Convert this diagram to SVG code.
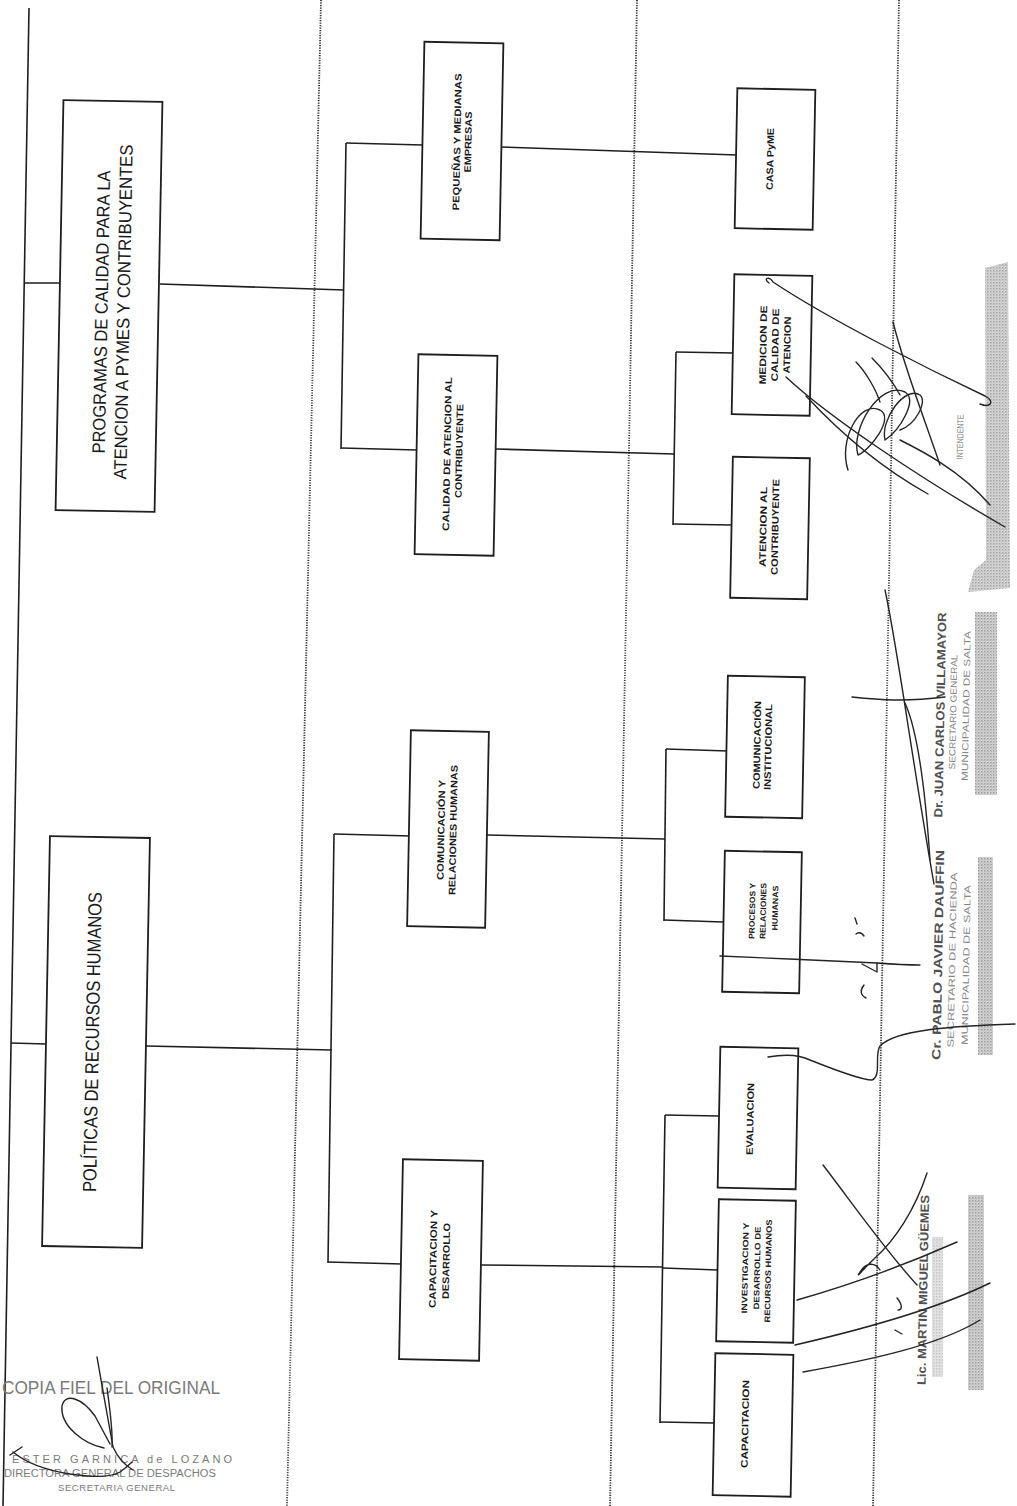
<svg xmlns="http://www.w3.org/2000/svg" width="1017" height="1506" viewBox="0 0 1017 1506">
  <style>
    .box { fill: #ffffff; stroke: #1e1e1e; stroke-width: 1.8; }
    .ln { stroke: #1e1e1e; stroke-width: 1.6; fill: none; }
    .dot { stroke: #333333; stroke-width: 1.8; stroke-dasharray: 1.2 1.3; fill: none; }
    .big { font-family: "Liberation Sans", Arial, sans-serif; font-size: 18px; fill: #1a1a1a; text-anchor: middle; }
    .lbl { font-family: "Liberation Sans", Arial, sans-serif; font-weight: bold; font-size: 9.5px; fill: #1a1a1a; text-anchor: middle; }
    .lbs { font-family: "Liberation Sans", Arial, sans-serif; font-weight: bold; font-size: 8px; fill: #1a1a1a; text-anchor: middle; }
    .sig { stroke: #242424; fill: none; stroke-width: 1.4; stroke-linecap: round; stroke-linejoin: round; }
    .stn { font-family: "Liberation Sans", Arial, sans-serif; font-weight: bold; font-size: 12px; fill: #505050; text-anchor: middle; }
    .stl { font-family: "Liberation Sans", Arial, sans-serif; font-size: 9px; fill: #858585; text-anchor: middle; }
    .cp { font-family: "Liberation Sans", Arial, sans-serif; fill: #7a7a7a; }
  </style>
  <defs>
    <pattern id="grain" width="3" height="3" patternUnits="userSpaceOnUse">
      <rect width="3" height="3" fill="#c4c4c4"/>
      <rect width="1.5" height="1.5" fill="#7d7d7d"/>
      <rect x="1.5" y="1.5" width="1" height="1" fill="#9a9a9a"/>
    </pattern>
  </defs>
  <rect width="1017" height="1506" fill="#ffffff"/>

  <!-- column separators -->
  <g id="separators">
    <line class="dot" x1="321" y1="0" x2="287" y2="1506"/>
    <line class="dot" x1="637" y1="0" x2="610" y2="1506"/>
    <line class="dot" x1="899" y1="0" x2="873" y2="1506"/>
  </g>

  <!-- connectors -->
  <g id="connectors">
    <line class="ln" x1="29" y1="8" x2="3" y2="1506"/>
    <line class="ln" x1="24" y1="283" x2="60" y2="283"/>
    <line class="ln" x1="160" y1="284" x2="344" y2="290"/>
    <line class="ln" x1="11" y1="1043" x2="46" y2="1044"/>
    <line class="ln" x1="146" y1="1046" x2="332" y2="1050"/>

    <line class="ln" x1="346" y1="143" x2="341" y2="449"/>
    <line class="ln" x1="346" y1="143" x2="423" y2="145"/>
    <line class="ln" x1="341" y1="448" x2="417" y2="450"/>

    <line class="ln" x1="334" y1="834" x2="328" y2="1263"/>
    <line class="ln" x1="334" y1="834" x2="411" y2="836"/>
    <line class="ln" x1="328" y1="1262" x2="402" y2="1264"/>

    <line class="ln" x1="501" y1="147" x2="737" y2="155"/>

    <line class="ln" x1="496" y1="449" x2="674" y2="454"/>
    <line class="ln" x1="676" y1="352" x2="673" y2="525"/>
    <line class="ln" x1="676" y1="352" x2="734" y2="353"/>
    <line class="ln" x1="673" y1="524" x2="731" y2="525"/>

    <line class="ln" x1="487" y1="835" x2="665" y2="839"/>
    <line class="ln" x1="666" y1="749" x2="664" y2="921"/>
    <line class="ln" x1="666" y1="749" x2="728" y2="751"/>
    <line class="ln" x1="664" y1="920" x2="723" y2="922"/>

    <line class="ln" x1="481" y1="1265" x2="663" y2="1267"/>
    <line class="ln" x1="665" y1="1115" x2="660" y2="1423"/>
    <line class="ln" x1="665" y1="1115" x2="719" y2="1116"/>
    <line class="ln" x1="663" y1="1268" x2="718" y2="1270"/>
    <line class="ln" x1="660" y1="1422" x2="714" y2="1423"/>
  </g>

  <!-- level 1 -->
  <g id="programas">
    <rect class="box" x="-49.5" y="-205" width="99" height="410" transform="translate(109,306) rotate(1.1)"/>
    <text class="big" transform="translate(101,312) rotate(-88.9)" y="6.5" textLength="283" lengthAdjust="spacingAndGlyphs">PROGRAMAS DE CALIDAD PARA LA</text>
    <text class="big" transform="translate(123,312) rotate(-88.9)" y="6.5" textLength="335" lengthAdjust="spacingAndGlyphs">ATENCION A PYMES Y CONTRIBUYENTES</text>
  </g>
  <g id="politicas">
    <rect class="box" x="-50" y="-205" width="100" height="410" transform="translate(96,1042) rotate(1.1)"/>
    <text class="big" style="font-size:19px" transform="translate(92,1042) rotate(-88.9)" y="6.8" textLength="300" lengthAdjust="spacingAndGlyphs">POLÍTICAS DE RECURSOS HUMANOS</text>
  </g>

  <!-- level 2 -->
  <g id="pequenas">
    <rect class="box" x="-39.5" y="-98.5" width="79" height="197" transform="translate(462,141) rotate(1.1)"/>
    <text class="lbl" transform="translate(457,142) rotate(-88.9)" y="3.4" textLength="137" lengthAdjust="spacingAndGlyphs">PEQUEÑAS Y MEDIANAS</text>
    <text class="lbl" transform="translate(468,142) rotate(-88.9)" y="3.4" textLength="61" lengthAdjust="spacingAndGlyphs">EMPRESAS</text>
  </g>
  <g id="calidad">
    <rect class="box" x="-39.5" y="-100" width="79" height="200" transform="translate(456,455) rotate(1.1)"/>
    <text class="lbl" transform="translate(447,454) rotate(-88.9)" y="3.4" textLength="154" lengthAdjust="spacingAndGlyphs">CALIDAD DE ATENCION AL</text>
    <text class="lbl" transform="translate(459,451) rotate(-88.9)" y="3.4" textLength="94" lengthAdjust="spacingAndGlyphs">CONTRIBUYENTE</text>
  </g>
  <g id="comunicacion">
    <rect class="box" x="-39" y="-98" width="78" height="196" transform="translate(448,829) rotate(1.1)"/>
    <text class="lbl" transform="translate(441,830) rotate(-88.9)" y="3.4" textLength="100" lengthAdjust="spacingAndGlyphs">COMUNICACIÓN Y</text>
    <text class="lbl" transform="translate(453,830) rotate(-88.9)" y="3.4" textLength="130" lengthAdjust="spacingAndGlyphs">RELACIONES HUMANAS</text>
  </g>
  <g id="capacitacion-desarrollo">
    <rect class="box" x="-40" y="-100" width="80" height="200" transform="translate(441,1260) rotate(1.1)"/>
    <text class="lbl" transform="translate(433,1259) rotate(-88.9)" y="3.4" textLength="98" lengthAdjust="spacingAndGlyphs">CAPACITACION Y</text>
    <text class="lbl" transform="translate(446,1261) rotate(-88.9)" y="3.4" textLength="76" lengthAdjust="spacingAndGlyphs">DESARROLLO</text>
  </g>

  <!-- level 3 -->
  <g id="casa-pyme">
    <rect class="box" x="-39" y="-70" width="78" height="140" transform="translate(775,159) rotate(1.1)"/>
    <text class="lbl" transform="translate(770,159) rotate(-88.9)" y="3.4" textLength="62" lengthAdjust="spacingAndGlyphs">CASA PyME</text>
  </g>
  <g id="medicion">
    <rect class="box" x="-39" y="-70" width="78" height="140" transform="translate(772,345) rotate(1.1)"/>
    <text class="lbl" transform="translate(763,345) rotate(-88.9)" y="3.4" textLength="79" lengthAdjust="spacingAndGlyphs">MEDICION DE</text>
    <text class="lbl" transform="translate(775,345) rotate(-88.9)" y="3.4" textLength="73" lengthAdjust="spacingAndGlyphs">CALIDAD DE</text>
    <text class="lbl" transform="translate(787,345) rotate(-88.9)" y="3.4" textLength="57" lengthAdjust="spacingAndGlyphs">ATENCION</text>
  </g>
  <g id="atencion">
    <rect class="box" x="-38.5" y="-70.5" width="77" height="141" transform="translate(770,528) rotate(1.1)"/>
    <text class="lbl" transform="translate(763,527) rotate(-88.9)" y="3.4" textLength="80" lengthAdjust="spacingAndGlyphs">ATENCION AL</text>
    <text class="lbl" transform="translate(775,527) rotate(-88.9)" y="3.4" textLength="96" lengthAdjust="spacingAndGlyphs">CONTRIBUYENTE</text>
  </g>
  <g id="comunicacion-institucional">
    <rect class="box" x="-38.5" y="-70.5" width="77" height="141" transform="translate(765,747) rotate(1.1)"/>
    <text class="lbl" transform="translate(757,745) rotate(-88.9)" y="3.4" textLength="88" lengthAdjust="spacingAndGlyphs">COMUNICACIÓN</text>
    <text class="lbl" transform="translate(768,747) rotate(-88.9)" y="3.4" textLength="86" lengthAdjust="spacingAndGlyphs">INSTITUCIONAL</text>
  </g>
  <g id="procesos">
    <rect class="box" x="-38.5" y="-70.5" width="77" height="141" transform="translate(762,922) rotate(1.1)"/>
    <text class="lbs" transform="translate(752,911) rotate(-88.9)" y="2.9" textLength="56" lengthAdjust="spacingAndGlyphs">PROCESOS Y</text>
    <text class="lbs" transform="translate(763,911) rotate(-88.9)" y="2.9" textLength="56" lengthAdjust="spacingAndGlyphs">RELACIONES</text>
    <text class="lbs" transform="translate(775,908) rotate(-88.9)" y="2.9" textLength="45" lengthAdjust="spacingAndGlyphs">HUMANAS</text>
  </g>
  <g id="evaluacion">
    <rect class="box" x="-39" y="-70.5" width="78" height="141" transform="translate(758,1118) rotate(1.1)"/>
    <text class="lbl" transform="translate(750,1119) rotate(-88.9)" y="3.4" textLength="72" lengthAdjust="spacingAndGlyphs">EVALUACION</text>
  </g>
  <g id="investigacion">
    <rect class="box" x="-38.5" y="-71" width="77" height="142" transform="translate(756,1271) rotate(1.1)"/>
    <text class="lbs" transform="translate(745,1268) rotate(-88.9)" y="2.9" textLength="91" lengthAdjust="spacingAndGlyphs">INVESTIGACION Y</text>
    <text class="lbs" transform="translate(757,1268) rotate(-88.9)" y="2.9" textLength="83" lengthAdjust="spacingAndGlyphs">DESARROLLO DE</text>
    <text class="lbs" transform="translate(768,1271) rotate(-88.9)" y="2.9" textLength="103" lengthAdjust="spacingAndGlyphs">RECURSOS HUMANOS</text>
  </g>
  <g id="capacitacion">
    <rect class="box" x="-39" y="-71" width="78" height="142" transform="translate(753,1425) rotate(1.1)"/>
    <text class="lbl" transform="translate(745,1424) rotate(-88.9)" y="3.4" textLength="88" lengthAdjust="spacingAndGlyphs">CAPACITACION</text>
  </g>

  <!-- official stamps -->
  <g id="stamps">
    <path d="M985,268 L1008,262 L1010,588 L968,592 L974,570 L986,560 Z" fill="url(#grain)" opacity="0.7"/>
    <text class="stl" transform="translate(960,437) rotate(-88.9)" y="3.2" textLength="45" lengthAdjust="spacingAndGlyphs">INTENDENTE</text>

    <text class="stn" transform="translate(940,715) rotate(-88.9)" y="4.3" textLength="205" lengthAdjust="spacingAndGlyphs">Dr. JUAN CARLOS VILLAMAYOR</text>
    <text class="stl" transform="translate(953,712) rotate(-88.9)" y="3.2" textLength="115" lengthAdjust="spacingAndGlyphs">SECRETARIO GENERAL</text>
    <text class="stl" transform="translate(966,706) rotate(-88.9)" y="3.2" textLength="150" lengthAdjust="spacingAndGlyphs">MUNICIPALIDAD DE SALTA</text>
    <rect x="975" y="612" width="22" height="183" fill="url(#grain)" opacity="0.75"/>

    <text class="stn" transform="translate(938,955) rotate(-88.9)" y="4.3" textLength="210" lengthAdjust="spacingAndGlyphs">Cr. PABLO JAVIER DAUFFIN</text>
    <text class="stl" transform="translate(952,960) rotate(-88.9)" y="3.2" textLength="175" lengthAdjust="spacingAndGlyphs">SECRETARIO DE HACIENDA</text>
    <text class="stl" transform="translate(966,965) rotate(-88.9)" y="3.2" textLength="160" lengthAdjust="spacingAndGlyphs">MUNICIPALIDAD DE SALTA</text>
    <rect x="978" y="857" width="15" height="198" fill="url(#grain)" opacity="0.75"/>

    <text class="stn" transform="translate(923,1290) rotate(-88.9)" y="4.3" textLength="190" lengthAdjust="spacingAndGlyphs">Lic. MARTIN MIGUEL GÜEMES</text>
    <rect x="932" y="1237" width="11" height="140" fill="url(#grain)" opacity="0.45"/>
    <rect x="968" y="1195" width="16" height="195" fill="url(#grain)" opacity="0.75"/>

    <text class="cp" x="2" y="1394" font-size="18" textLength="218" lengthAdjust="spacingAndGlyphs">COPIA FIEL DEL ORIGINAL</text>
    <text class="cp" x="12" y="1463" font-size="11" textLength="220" lengthAdjust="spacing">ESTER GARNICA de LOZANO</text>
    <text class="cp" x="4" y="1477" font-size="10" textLength="212" lengthAdjust="spacingAndGlyphs">DIRECTORA GENERAL DE DESPACHOS</text>
    <text class="cp" x="58" y="1491" font-size="9.5" textLength="117" lengthAdjust="spacing">SECRETARIA GENERAL</text>
  </g>

  <!-- handwritten signatures -->
  <g id="signatures">
    <path class="sig" d="M97,1357 C102,1385 108,1420 113,1447 C118,1458 126,1466 133,1470"/>
    <path class="sig" d="M107,1388 C110,1410 113,1430 112,1447"/>
    <path class="sig" d="M104,1448 C84,1444 60,1426 62,1406 C65,1392 82,1398 95,1416 L110,1444"/>
    <path class="sig" d="M13,1452 C25,1462 45,1470 70,1474 C90,1477 110,1478 120,1472 C126,1468 130,1464 132,1462"/>
    <path class="sig" d="M10,1455 L22,1447"/>

    <path class="sig" d="M769,283 C762,278 770,276 773,282 C830,320 930,370 985,396 C996,402 990,408 980,404"/>
    <path class="sig" d="M786,377 C830,418 920,478 1005,527"/>
    <path class="sig" d="M806,396 C845,438 885,470 928,494"/>
    <path class="sig" d="M893,322 C905,370 925,420 940,465"/>
    <path class="sig" d="M848,470 C838,440 860,400 880,410 C895,418 870,450 858,455 C850,430 880,380 905,392 C918,400 900,430 885,440 C880,420 905,385 920,395 C928,402 915,425 900,430"/>
    <path class="sig" d="M856,362 C866,372 876,390 880,402"/>
    <path class="sig" d="M872,358 C884,370 894,384 900,395"/>
    <path class="sig" d="M900,440 C920,450 960,470 990,505"/>

    <path class="sig" d="M885,590 C898,650 912,760 934,884" stroke-width="1.8"/>
    <path class="sig" d="M852,697 C880,700 905,702 945,697"/>
    <path class="sig" d="M905,703 C915,725 924,770 930,860" stroke-width="2.4"/>

    <path class="sig" d="M720,956 C770,958 830,961 877,963 L877,972 L862,964"/>
    <path class="sig" d="M877,963 C890,964 905,965 920,965" stroke-width="0.8"/>
    <path class="sig" d="M864,985 C860,990 860,995 866,998"/>
    <path class="sig" d="M855,918 L857,924"/>
    <path class="sig" d="M856,934 C859,932 862,933 864,936"/>
    <path class="sig" d="M768,1057 C785,1054 800,1055 810,1060 C830,1068 860,1080 872,1080 C882,1076 874,1055 880,1046 C895,1030 950,1026 1015,1024"/>

    <path class="sig" d="M823,1165 C850,1200 885,1250 917,1285"/>
    <path class="sig" d="M927,1173 C915,1210 895,1240 875,1258 C862,1270 855,1280 860,1272 C866,1262 875,1262 880,1270"/>
    <path class="sig" d="M797,1300 C850,1285 905,1265 957,1242"/>
    <path class="sig" d="M795,1345 C860,1330 935,1310 990,1283"/>
    <path class="sig" d="M803,1372 C870,1360 940,1345 980,1320"/>
    <path class="sig" d="M897,1298 C902,1304 903,1310 898,1310"/>
    <path class="sig" d="M895,1330 L902,1334"/>
  </g>
</svg>
